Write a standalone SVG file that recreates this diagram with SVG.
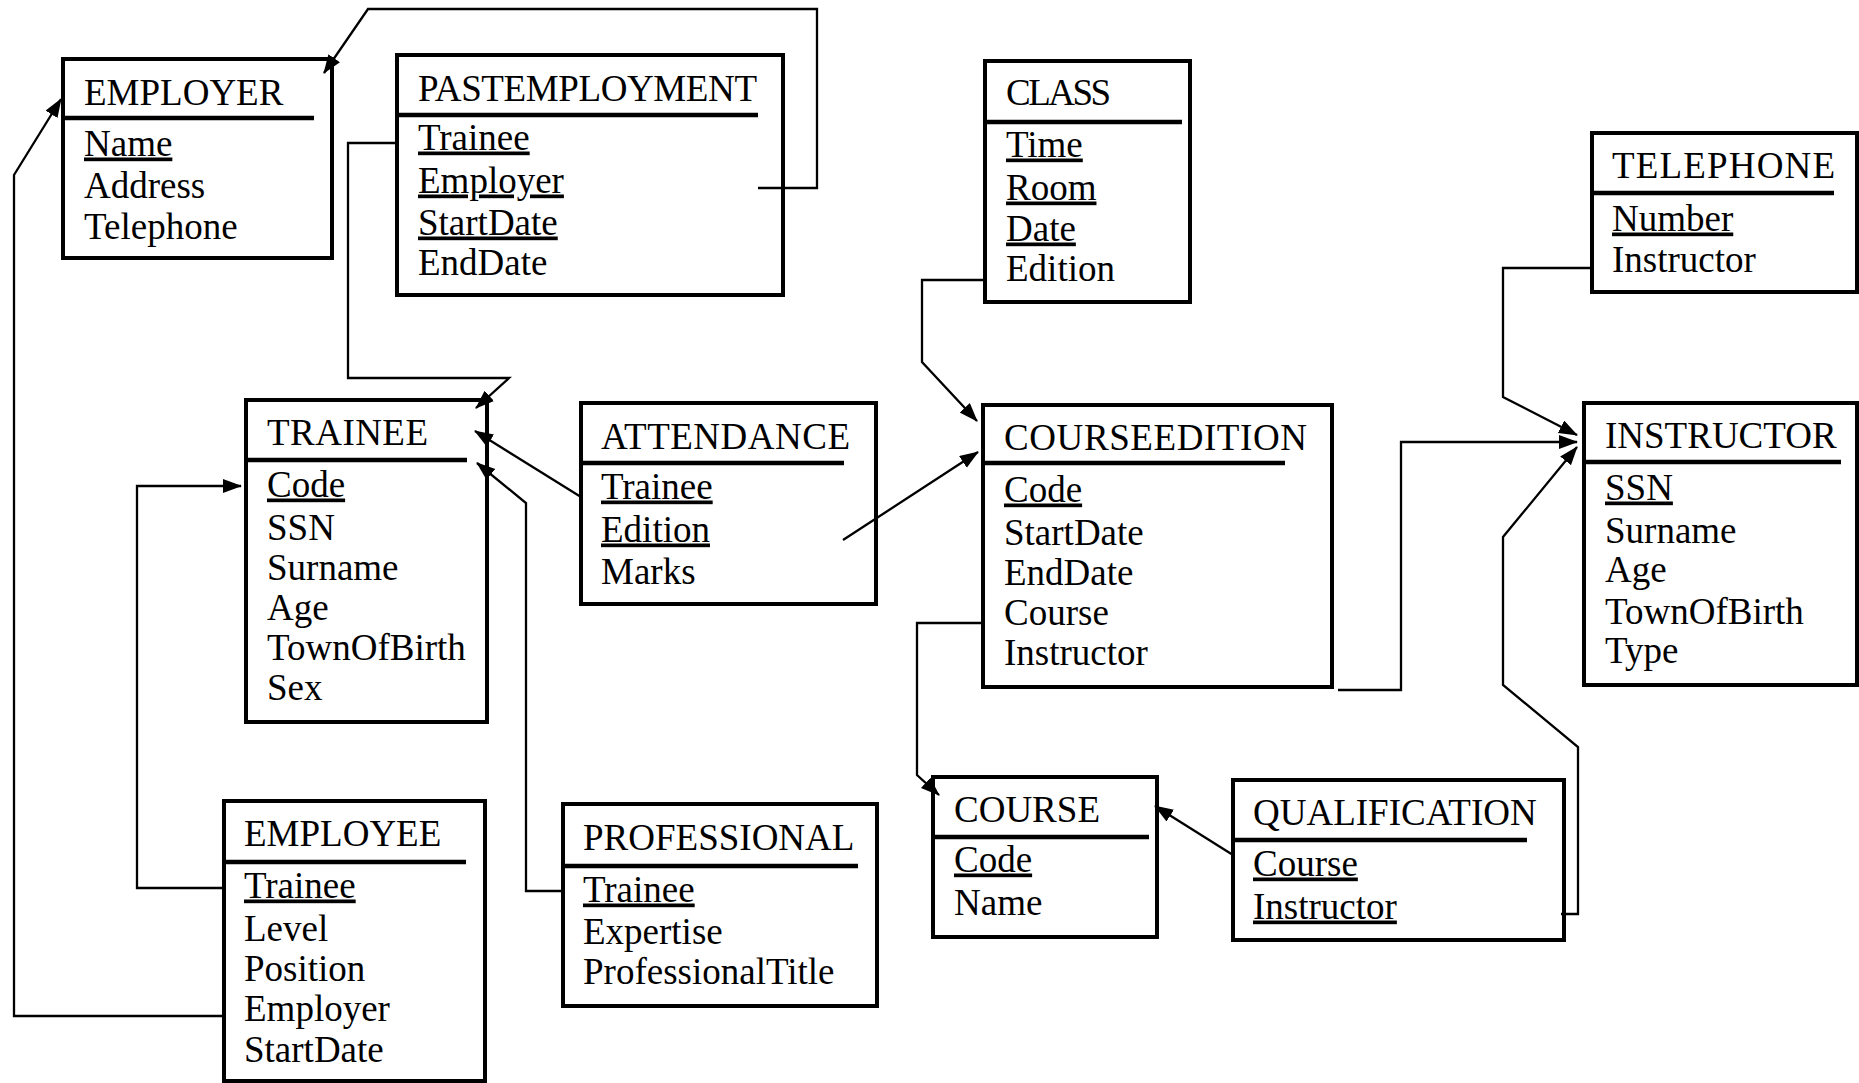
<svg xmlns="http://www.w3.org/2000/svg" width="1859" height="1083" viewBox="0 0 1859 1083">
  <style>
    .box { fill: #ffffff; stroke: #000000; stroke-width: 4; }
    .sep { stroke: #000000; stroke-width: 4.5; }
    text { font-size: 37px; fill: #000000; }
    .key { text-decoration: underline; }
    .conn { fill: none; stroke: #000000; stroke-width: 2.3; stroke-linejoin: miter; }
    .arrow { marker-end: url(#head); }
  </style>
  <defs>
    <marker id="head" markerUnits="userSpaceOnUse" markerWidth="22" markerHeight="16" refX="18" refY="7" orient="auto">
      <path d="M0,0 L19,7 L0,14 z" fill="#000000"/>
    </marker>
  </defs>
  <rect width="1859" height="1083" fill="#ffffff"/>

  <!-- tables -->
  <g font-family="Liberation Serif, DejaVu Serif, serif" transform="translate(0,1.5)">
  <g id="employer">
    <rect class="box" x="63" y="57.5" width="269" height="199"/>
    <line class="sep" x1="63" y1="116.5" x2="314" y2="116.5"/>
    <text x="84" y="103">EMPLOYER</text>
    <text class="key" x="84" y="154">Name</text>
    <text x="84" y="196">Address</text>
    <text x="84" y="237">Telephone</text>
  </g>

  <g id="pastemployment">
    <rect class="box" x="397" y="53.5" width="386" height="240"/>
    <line class="sep" x1="397" y1="113.5" x2="758" y2="113.5"/>
    <text x="418" y="99" textLength="339">PASTEMPLOYMENT</text>
    <text class="key" x="418" y="148">Trainee</text>
    <text class="key" x="418" y="191">Employer</text>
    <text class="key" x="418" y="233">StartDate</text>
    <text x="418" y="273">EndDate</text>
  </g>

  <g id="class">
    <rect class="box" x="985" y="59.5" width="205" height="241"/>
    <line class="sep" x1="985" y1="120.5" x2="1182" y2="120.5"/>
    <text x="1006" y="103" textLength="105">CLASS</text>
    <text class="key" x="1006" y="155">Time</text>
    <text class="key" x="1006" y="198">Room</text>
    <text class="key" x="1006" y="239">Date</text>
    <text x="1006" y="279">Edition</text>
  </g>

  <g id="telephone">
    <rect class="box" x="1592" y="131.5" width="265" height="159"/>
    <line class="sep" x1="1592" y1="191.5" x2="1834" y2="191.5"/>
    <text x="1612" y="176" textLength="223">TELEPHONE</text>
    <text class="key" x="1612" y="229">Number</text>
    <text x="1612" y="270">Instructor</text>
  </g>

  <g id="trainee">
    <rect class="box" x="246" y="398.5" width="241" height="322"/>
    <line class="sep" x1="246" y1="458.5" x2="467" y2="458.5"/>
    <text x="267" y="443" textLength="161">TRAINEE</text>
    <text class="key" x="267" y="495">Code</text>
    <text x="267" y="538">SSN</text>
    <text x="267" y="578">Surname</text>
    <text x="267" y="618">Age</text>
    <text x="267" y="658">TownOfBirth</text>
    <text x="267" y="698">Sex</text>
  </g>

  <g id="attendance">
    <rect class="box" x="581" y="401.5" width="295" height="201"/>
    <line class="sep" x1="581" y1="461.5" x2="844" y2="461.5"/>
    <text x="601" y="447" textLength="249">ATTENDANCE</text>
    <text class="key" x="601" y="497">Trainee</text>
    <text class="key" x="601" y="540">Edition</text>
    <text x="601" y="582">Marks</text>
  </g>

  <g id="courseedition">
    <rect class="box" x="983" y="403.5" width="349" height="282"/>
    <line class="sep" x1="983" y1="461.5" x2="1285" y2="461.5"/>
    <text x="1004" y="448" textLength="303">COURSEEDITION</text>
    <text class="key" x="1004" y="500">Code</text>
    <text x="1004" y="543">StartDate</text>
    <text x="1004" y="583">EndDate</text>
    <text x="1004" y="623">Course</text>
    <text x="1004" y="663">Instructor</text>
  </g>

  <g id="instructor">
    <rect class="box" x="1584" y="401.5" width="273" height="282"/>
    <line class="sep" x1="1584" y1="460.5" x2="1841" y2="460.5"/>
    <text x="1605" y="446">INSTRUCTOR</text>
    <text class="key" x="1605" y="498">SSN</text>
    <text x="1605" y="541">Surname</text>
    <text x="1605" y="580">Age</text>
    <text x="1605" y="622">TownOfBirth</text>
    <text x="1605" y="661">Type</text>
  </g>

  <g id="employee">
    <rect class="box" x="224" y="799.5" width="261" height="280"/>
    <line class="sep" x1="224" y1="860.5" x2="466" y2="860.5"/>
    <text x="244" y="844">EMPLOYEE</text>
    <text class="key" x="244" y="896">Trainee</text>
    <text x="244" y="939">Level</text>
    <text x="244" y="979">Position</text>
    <text x="244" y="1019">Employer</text>
    <text x="244" y="1060">StartDate</text>
  </g>

  <g id="professional">
    <rect class="box" x="563" y="802.5" width="314" height="202"/>
    <line class="sep" x1="563" y1="864.5" x2="858" y2="864.5"/>
    <text x="583" y="848">PROFESSIONAL</text>
    <text class="key" x="583" y="900">Trainee</text>
    <text x="583" y="942">Expertise</text>
    <text x="583" y="982">ProfessionalTitle</text>
  </g>

  <g id="course">
    <rect class="box" x="933" y="775.5" width="224" height="160"/>
    <line class="sep" x1="933" y1="835.5" x2="1149" y2="835.5"/>
    <text x="954" y="820">COURSE</text>
    <text class="key" x="954" y="870">Code</text>
    <text x="954" y="913">Name</text>
  </g>

  <g id="qualification">
    <rect class="box" x="1233" y="778.5" width="331" height="160"/>
    <line class="sep" x1="1233" y1="838.5" x2="1527" y2="838.5"/>
    <text x="1253" y="823">QUALIFICATION</text>
    <text class="key" x="1253" y="874">Course</text>
    <text class="key" x="1253" y="917">Instructor</text>
  </g>
  </g>

  <!-- foreign key references -->
  <g id="connectors">
    <polyline class="conn arrow" points="758,188 817,188 817,9 368,9 324,73"/>
    <polyline class="conn arrow" points="397,143 348,143 348,378 509,378 476,408"/>
    <polyline class="conn arrow" points="581,497 475,431"/>
    <polyline class="conn arrow" points="563,891 526,891 526,503 477,463"/>
    <polyline class="conn arrow" points="224,888 137,888 137,486 241,486"/>
    <polyline class="conn arrow" points="224,1016 14,1016 14,175 61,99"/>
    <polyline class="conn arrow" points="843,540 978,452"/>
    <polyline class="conn arrow" points="985,280 922,280 922,362 977,421"/>
    <polyline class="conn arrow" points="983,623 917,623 917,775 939,795"/>
    <polyline class="conn arrow" points="1233,855 1155,806"/>
    <polyline class="conn arrow" points="1338,690 1401,690 1401,442 1577,442"/>
    <polyline class="conn arrow" points="1592,268 1503,268 1503,397 1577,435"/>
    <polyline class="conn arrow" points="1561,914 1578,914 1578,747 1503,685 1503,537 1577,447"/>
  </g>
</svg>
